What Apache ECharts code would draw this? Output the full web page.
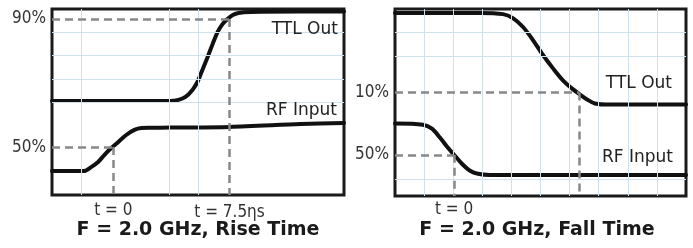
<!DOCTYPE html>
<html>
<head>
<meta charset="utf-8">
<script src="https://cdn.jsdelivr.net/npm/echarts@6/dist/echarts.min.js"></script>
<style>
html, body { margin: 0; padding: 0; background: #fff; }
#chart { width: 693px; height: 248px; }
</style>
</head>
<body>
<div id="chart"></div>
<script>
// time in scope divisions (0..10), level in divisions (0..8)
// rise time panel
const riseTtlT = [0, 4.05, 4.33, 4.57, 4.81, 4.98, 5.15, 5.33, 5.5, 5.67, 5.84, 6.01, 6.19, 6.39, 6.8, 8.5, 10];
const riseTtlV = [4.04, 4.04, 4.09, 4.22, 4.52, 4.86, 5.38, 5.94, 6.49, 7.01, 7.35, 7.57, 7.74, 7.83, 7.87, 7.89, 7.89];
const riseRfT = [0, 1.1, 1.34, 1.58, 1.79, 2.03, 2.27, 2.54, 2.82, 3.06, 3.4, 4.05, 6.08, 8.52, 10];
const riseRfV = [1.03, 1.03, 1.2, 1.42, 1.72, 2.02, 2.28, 2.58, 2.8, 2.88, 2.89, 2.9, 2.93, 3.05, 3.1];
const riseLevels = [7.57, 2.06];
const riseTimes = [6.08, 2.1];
const riseLevelLabels = ["90%", "50%"];
const riseTimeLabels = ["t = 7.5ηs", "t = 0"];
const riseGridT = [1, 4, 5];
const riseGridV = [7, 6, 5, 4];

// fall time panel
const fallTtlT = [0, 2.92, 3.71, 4.05, 4.4, 4.74, 5.09, 5.43, 5.77, 6.12, 6.36, 6.6, 6.87, 7.39, 10];
const fallTtlV = [7.83, 7.83, 7.78, 7.61, 7.23, 6.67, 6.02, 5.46, 4.95, 4.56, 4.34, 4.13, 3.96, 3.91, 3.91];
const fallRfT = [0, 0.96, 1.27, 1.55, 1.82, 2.06, 2.3, 2.58, 2.85, 3.26, 10];
const fallRfV = [3.1, 3.05, 2.88, 2.49, 2.06, 1.72, 1.38, 1.08, 0.95, 0.9, 0.9];
const fallLevels = [4.43, 1.76];
const fallTimes = [6.32, 2.03];
const fallLevelLabels = ["10%", "50%"];
const fallTimeLabels = ["", "t = 0"];
const fallGridT = [1, 2, 3, 4, 5, 6, 7, 8, 9];
const fallGridV = [7, 6, 0.72];

const titles = ["F = 2.0 GHz, Rise Time", "F = 2.0 GHz, Fall Time"];
const traceNames = ["TTL Out", "RF Input"];

const pairs = (xs, ys) => xs.map((x, i) => [x, ys[i]]);

const narrow = "'Liberation Sans Narrow', 'DejaVu Sans Condensed', 'Liberation Sans', sans-serif";
const gridBlue = "#cfe2ee";

function gridSeries(idx, ts, vs) {
  return {
    type: "line",
    xAxisIndex: idx,
    yAxisIndex: idx,
    data: [],
    z: 1,
    markLine: {
      silent: true,
      symbol: ["none", "none"],
      label: { show: false },
      lineStyle: { color: gridBlue, width: 1, type: "solid" },
      data: ts.map((t) => ({ xAxis: t })).concat(vs.map((v) => ({ yAxis: v })))
    }
  };
}

// L-shaped dashed marker: across from the left edge, then down to the bottom
function dashLines(level, time, levelLabel, timeLabel, timeDist) {
  const lab = { fontFamily: narrow, fontSize: 17, color: "#333" };
  return [
    [
      { coord: [0, level], label: Object.assign({ show: true, position: "start", distance: 6, formatter: levelLabel }, lab) },
      { coord: [time, level] }
    ],
    [
      { coord: [time, level], label: Object.assign({ show: timeLabel !== "", position: "end", distance: timeDist, formatter: timeLabel }, lab) },
      { coord: [time, 0] }
    ]
  ];
}

function trace(idx, name, data, labelAt, level, time, levelLabel, timeLabel, timeDist) {
  return {
    name: name,
    type: "line",
    xAxisIndex: idx,
    yAxisIndex: idx,
    data: data,
    smooth: 0.3,
    symbol: "none",
    z: 3,
    lineStyle: { color: "#111", width: 4, cap: "round", join: "round" },
    markPoint: {
      silent: true,
      symbol: "circle",
      symbolSize: 0,
      label: { show: true, position: "left", distance: 0, formatter: name,
               fontFamily: "DejaVu Sans", fontSize: 17, color: "#222" },
      data: [{ coord: labelAt }]
    },
    markLine: {
      silent: true,
      symbol: ["none", "none"],
      lineStyle: { color: "#888", width: 2.5, type: [8, 5] },
      data: dashLines(level, time, levelLabel, timeLabel, timeDist)
    }
  };
}

const chart = echarts.init(document.getElementById("chart"));

const axisX = (i) => ({ type: "value", gridIndex: i, min: 0, max: 10, show: false });
const axisY = (i) => ({ type: "value", gridIndex: i, min: 0, max: 8, show: false });

chart.setOption({
  animation: false,
  backgroundColor: "#fff",
  title: [
    { text: titles[0], left: 198, top: 221, textAlign: "center", padding: 0,
      textStyle: { fontFamily: "DejaVu Sans", fontWeight: "bold", fontSize: 19, color: "#1a1a1a" } },
    { text: titles[1], left: 537, top: 221, textAlign: "center", padding: 0,
      textStyle: { fontFamily: "DejaVu Sans", fontWeight: "bold", fontSize: 19, color: "#1a1a1a" } }
  ],
  grid: [
    { left: 52, top: 9, width: 292, height: 186, show: true, borderColor: "#1a1a1a", borderWidth: 3, backgroundColor: "transparent" },
    { left: 395, top: 9, width: 291, height: 187, show: true, borderColor: "#1a1a1a", borderWidth: 3, backgroundColor: "transparent" }
  ],
  xAxis: [axisX(0), axisX(1)],
  yAxis: [axisY(0), axisY(1)],
  series: [
    gridSeries(0, riseGridT, riseGridV),
    gridSeries(1, fallGridT, fallGridV),
    trace(0, traceNames[0], pairs(riseTtlT, riseTtlV), [9.79, 7.1], riseLevels[0], riseTimes[0], riseLevelLabels[0], riseTimeLabels[0], 9),
    trace(0, traceNames[1], pairs(riseRfT, riseRfV), [9.76, 3.61], riseLevels[1], riseTimes[1], riseLevelLabels[1], riseTimeLabels[1], 7),
    trace(1, traceNames[0], pairs(fallTtlT, fallTtlV), [9.52, 4.82], fallLevels[0], fallTimes[0], fallLevelLabels[0], fallTimeLabels[0], 5),
    trace(1, traceNames[1], pairs(fallRfT, fallRfV), [9.55, 1.63], fallLevels[1], fallTimes[1], fallLevelLabels[1], fallTimeLabels[1], 5)
  ]
});
</script>
</body>
</html>
